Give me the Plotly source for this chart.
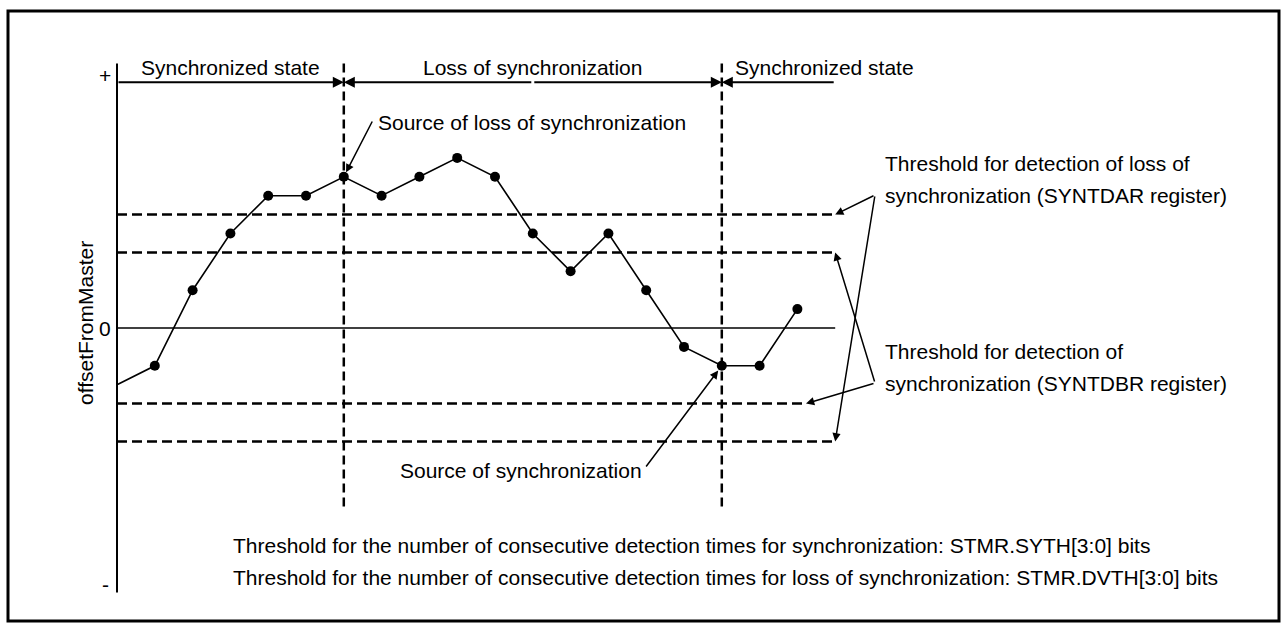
import plotly.graph_objects as go

# Sampled offsetFromMaster values (in threshold steps) and detection settings
sample = list(range(19))
offset_from_master = [-3, -2, 2, 5, 7, 7, 8, 7, 8, 9, 8, 5, 3, 5, 2, -1, -2, -2, 1]
syntdar_level = 6          # loss-of-synchronization threshold
syntdbr_level = 4          # synchronization threshold
loss_start = 6             # sample where synchronization is lost
sync_start = 16            # sample where synchronization is regained
state_labels = ["Synchronized state", "Loss of synchronization", "Synchronized state"]
y_tick_labels = ["+", "0", "-"]
syntdar_text = ["Threshold for detection of loss of", "synchronization (SYNTDAR register)"]
syntdbr_text = ["Threshold for detection of", "synchronization (SYNTDBR register)"]
count_text = [
    "Threshold for the number of consecutive detection times for synchronization: STMR.SYTH[3:0] bits",
    "Threshold for the number of consecutive detection times for loss of synchronization: STMR.DVTH[3:0] bits",
]

W, H = 1287, 632
X0_PX, DX_PX = 117, 37.8
Y0_PX, DY_PX = 328, 18.9


def xd(px):
    return (px - X0_PX) / DX_PX


def yd(py):
    return (Y0_PX - py) / DY_PX


X_END = 19
Y_AXIS_TOP = 14
Y_STATE = 13
FONT = dict(family="Arial, 'Liberation Sans', sans-serif", size=21, color="black")

fig = go.Figure()
fig.add_trace(go.Scatter(x=sample, y=offset_from_master, mode="lines",
                         line=dict(color="black", width=1.6), hoverinfo="skip"))
fig.add_trace(go.Scatter(x=sample[1:], y=offset_from_master[1:], mode="markers",
                         marker=dict(size=10, color="black"), hoverinfo="skip"))

shapes = []
# vertical axis and zero line
shapes.append(dict(type="line", x0=0, x1=0, y0=-Y_AXIS_TOP, y1=Y_AXIS_TOP,
                   line=dict(color="black", width=2)))
shapes.append(dict(type="line", x0=0, x1=X_END, y0=0, y1=0,
                   line=dict(color="black", width=1.5), layer="below"))
# threshold levels
dash_h = dict(color="black", width=2.5, dash="10px,5px")
for lvl, x_end in [(syntdar_level, X_END), (syntdbr_level, X_END),
                   (-syntdbr_level, xd(806)), (-syntdar_level, X_END)]:
    shapes.append(dict(type="line", x0=0, x1=x_end, y0=lvl, y1=lvl,
                       line=dash_h, layer="below"))
# state boundaries
for b in (loss_start, sync_start):
    shapes.append(dict(type="line", x0=b, x1=b, y0=Y_AXIS_TOP, y1=yd(510),
                       line=dict(color="black", width=2.5, dash="9px,5px"), layer="below"))
# outer frame
shapes.append(dict(type="rect", xref="paper", yref="paper",
                   x0=8 / W, x1=1279 / W, y0=1 - 621 / H, y1=1 - 11 / H,
                   line=dict(color="black", width=3)))

ann = []


def arrow(x, y, ax, ay, width=1.5, standoff=0):
    ann.append(dict(x=x, y=y, ax=ax, ay=ay, xref="x", yref="y", axref="x", ayref="y",
                    text="", showarrow=True, arrowhead=2, arrowsize=1.1,
                    arrowwidth=width, arrowcolor="black", standoff=standoff))


def label(x, y, text, xanchor="left", **kw):
    ann.append(dict(x=x, y=y, xref="x", yref="y", text=text, showarrow=False,
                    xanchor=xanchor, yanchor="middle", font=FONT, **kw))


# state spans along the top
mid = (loss_start + sync_start) / 2
arrow(loss_start, Y_STATE, 0, Y_STATE, width=2)
arrow(loss_start, Y_STATE, mid, Y_STATE, width=2)
arrow(sync_start, Y_STATE, mid, Y_STATE, width=2)
arrow(sync_start, Y_STATE, X_END, Y_STATE, width=2)
label(loss_start / 2, yd(67), state_labels[0], xanchor="center")
label(mid, yd(67), state_labels[1], xanchor="center")
label(xd(733), yd(67), state_labels[2])

# source of loss / source of synchronization
arrow(sample[loss_start], offset_from_master[loss_start], xd(373), yd(120), standoff=5)
label(xd(376), yd(122), "Source of loss of synchronization")
arrow(sample[sync_start], offset_from_master[sync_start], xd(645), yd(468), standoff=6)
label(xd(644), yd(470), "Source of synchronization", xanchor="right")

# threshold callouts
tail_a = (xd(875), yd(195))
arrow(X_END, syntdar_level, *tail_a)
arrow(X_END, -syntdar_level, *tail_a)
label(xd(883), yd(163), syntdar_text[0])
label(xd(883), yd(195), syntdar_text[1])
tail_b = (xd(875), yd(383))
arrow(X_END, syntdbr_level, *tail_b)
arrow(xd(806), -syntdbr_level, *tail_b)
label(xd(883), yd(351), syntdbr_text[0])
label(xd(883), yd(383), syntdbr_text[1])

# axis marks and title
label(xd(105), yd(75), y_tick_labels[0], xanchor="center")
label(xd(105), 0, y_tick_labels[1], xanchor="center")
label(xd(105), yd(584), y_tick_labels[2], xanchor="center")
label(xd(85), yd(323), "offsetFromMaster", xanchor="center", textangle=-90)

# consecutive-detection settings
label(xd(231), yd(545), count_text[0])
label(xd(231), yd(577), count_text[1])

fig.update_layout(
    width=W, height=H, autosize=False,
    margin=dict(l=0, r=0, t=0, b=0, pad=0),
    paper_bgcolor="white", plot_bgcolor="white",
    showlegend=False,
    xaxis=dict(visible=False, range=[xd(0), xd(W)], fixedrange=True),
    yaxis=dict(visible=False, range=[yd(H), yd(0)], fixedrange=True),
    shapes=shapes, annotations=ann,
)
fig.write_html("out.html")
